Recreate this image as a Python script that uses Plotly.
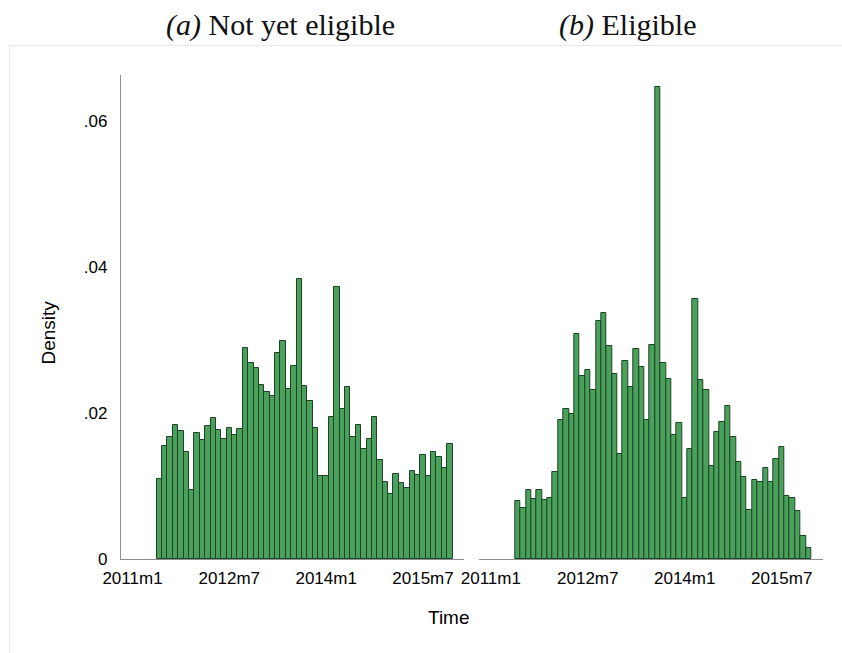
import plotly.graph_objects as go

# Monthly density histograms (bin width = 1 month), 2011m6 .. 2015m12
first_year, first_month = 2011, 6

density_not_yet = [
    0.0109, 0.0155, 0.0167, 0.0183, 0.0176, 0.0146, 0.0094, 0.0173, 0.0163, 0.0182,
    0.0193, 0.0177, 0.0165, 0.0179, 0.0170, 0.0178, 0.0289, 0.0268, 0.0262, 0.0238,
    0.0229, 0.0223, 0.0282, 0.0299, 0.0233, 0.0265, 0.0383, 0.0237, 0.0216, 0.0179,
    0.0114, 0.0114, 0.0194, 0.0373, 0.0205, 0.0235, 0.0167, 0.0184, 0.0151, 0.0165,
    0.0194, 0.0135, 0.0105, 0.0089, 0.0117, 0.0104, 0.0097, 0.0121, 0.0115, 0.0143,
    0.0114, 0.0147, 0.0140, 0.0124, 0.0158,
]

density_eligible = [
    0.0079, 0.0070, 0.0094, 0.0082, 0.0094, 0.0081, 0.0083, 0.0119, 0.0190, 0.0205,
    0.0198, 0.0308, 0.0251, 0.0259, 0.0231, 0.0326, 0.0337, 0.0292, 0.0254, 0.0144,
    0.0271, 0.0235, 0.0287, 0.0263, 0.0191, 0.0293, 0.0647, 0.0268, 0.0247, 0.0170,
    0.0186, 0.0084, 0.0151, 0.0356, 0.0245, 0.0232, 0.0127, 0.0174, 0.0188, 0.0209,
    0.0167, 0.0133, 0.0113, 0.0067, 0.0108, 0.0106, 0.0124, 0.0106, 0.0137, 0.0154,
    0.0086, 0.0083, 0.0066, 0.0032, 0.0015,
]

x_tick_months = [(2011, 1), (2012, 7), (2014, 1), (2015, 7)]
y_tick_values = [0, 0.02, 0.04, 0.06]
y_tick_labels = ["0", ".02", ".04", ".06"]

panel_titles = ["<i>(a)</i> Not yet eligible", "<i>(b)</i> Eligible"]
y_title = "Density"
x_title = "Time"

BASE_YEAR = 2011


def month_index(year, month):
    """Months elapsed since 2011m1."""
    return (year - BASE_YEAR) * 12 + (month - 1)


start_idx = month_index(first_year, first_month)
bar_x = [start_idx + i for i in range(len(density_not_yet))]
tick_vals = [month_index(y, m) for y, m in x_tick_months]
tick_text = [f"{y}m{m}" for y, m in x_tick_months]

W, H = 842, 653
FILL = "#4ba15c"
EDGE = "#1c4325"
AXIS = "#8e8e8e"
SANS = "Liberation Sans, Arial, Helvetica, sans-serif"
SERIF = "Liberation Serif, Times New Roman, serif"


def px_x(p):
    return p / W


def px_y(p):
    return (H - p) / H


fig = go.Figure()
for data, ax in [(density_not_yet, "x"), (density_eligible, "x2")]:
    fig.add_trace(go.Bar(
        x=bar_x, y=data, width=1.0,
        marker=dict(color=FILL, line=dict(color=EDGE, width=1)),
        xaxis=ax, yaxis="y" if ax == "x" else "y2",
        showlegend=False, hoverinfo="x+y",
    ))

x_range = [-2.14, 61.62]
y_range = [0, 0.0663]
y_dom = [px_y(559), px_y(75)]

common_x = dict(
    range=x_range, tickmode="array", tickvals=tick_vals, ticktext=tick_text,
    showline=True, linecolor=AXIS, linewidth=1.3, showgrid=False, zeroline=False,
    ticks="", ticklabelstandoff=3, automargin=False,
    tickfont=dict(family=SANS, size=17, color="#000"),
)

fig.update_layout(
    width=W, height=H,
    margin=dict(l=0, r=0, t=0, b=0, pad=0, autoexpand=False),
    paper_bgcolor="white", plot_bgcolor="white",
    bargap=0,
    xaxis=dict(domain=[px_x(121), px_x(464)], anchor="y", **common_x),
    xaxis2=dict(domain=[px_x(479.3), px_x(822.7)], anchor="y2", **common_x),
    yaxis=dict(
        domain=y_dom, range=y_range, tickmode="array",
        tickvals=y_tick_values, ticktext=y_tick_labels,
        showline=True, linecolor=AXIS, linewidth=1.3, showgrid=False,
        zeroline=False, ticks="", ticklabelstandoff=9, automargin=False,
        tickfont=dict(family=SANS, size=17, color="#000"),
    ),
    yaxis2=dict(
        domain=y_dom, range=y_range, anchor="x2", matches="y",
        showline=False, showgrid=False, zeroline=False, showticklabels=False,
        ticks="", automargin=False,
    ),
    shapes=[dict(
        type="rect", xref="paper", yref="paper",
        x0=px_x(9.5), x1=1.02, y0=-0.02, y1=px_y(45.5),
        line=dict(color="#e8e8e8", width=1), fillcolor="rgba(0,0,0,0)",
        layer="below",
    )],
    annotations=[
        dict(text=panel_titles[0], x=px_x(280), y=px_y(25), xref="paper", yref="paper",
             showarrow=False, xanchor="center", yanchor="middle",
             font=dict(family=SERIF, size=30, color="#111")),
        dict(text=panel_titles[1], x=px_x(627.5), y=px_y(25), xref="paper", yref="paper",
             showarrow=False, xanchor="center", yanchor="middle",
             font=dict(family=SERIF, size=30, color="#111")),
        dict(text=y_title, x=px_x(47.5), y=px_y(333), xref="paper", yref="paper",
             showarrow=False, textangle=-90, xanchor="center", yanchor="middle",
             font=dict(family=SANS, size=19, color="#000")),
        dict(text=x_title, x=px_x(449), y=px_y(617), xref="paper", yref="paper",
             showarrow=False, xanchor="center", yanchor="middle",
             font=dict(family=SANS, size=19, color="#000")),
    ],
)

fig.write_html("out.html")
